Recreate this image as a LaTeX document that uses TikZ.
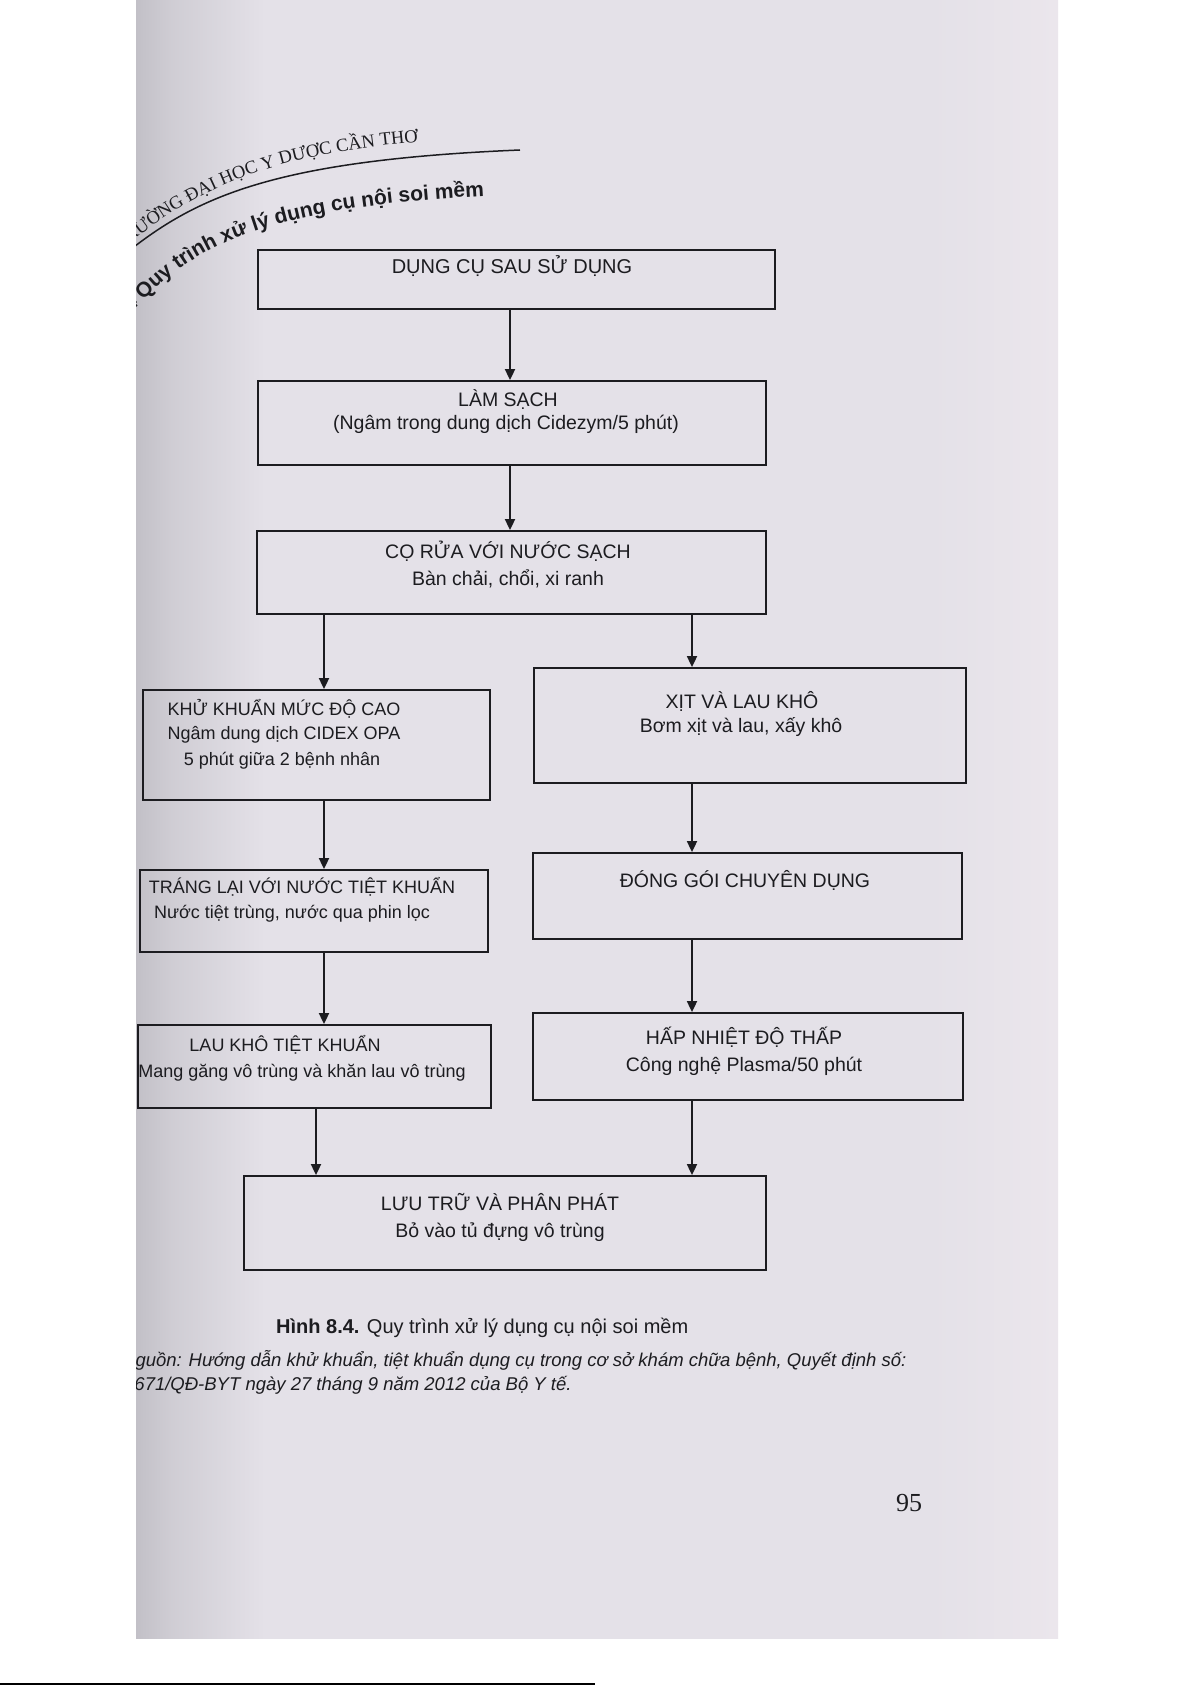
\documentclass[tikz,border=0pt]{standalone}
\usepackage{fontspec}
\setmainfont{Liberation Sans}
\newfontfamily\seriffont{Liberation Serif}
\usetikzlibrary{arrows.meta,decorations.text}
\definecolor{pagebg}{RGB}{228,225,232}
\definecolor{pagedark}{RGB}{194,192,199}
\definecolor{pagelight}{RGB}{235,230,236}
\definecolor{ink}{RGB}{28,28,32}
\pgfdeclarehorizontalshading{pageshade}{100bp}{color(0bp)=(pagedark); color(25bp)=(pagedark); color(27bp)=(pagedark!60!pagebg); color(32bp)=(pagebg); color(68bp)=(pagebg); color(75bp)=(pagelight); color(100bp)=(pagelight)}
\tikzset{
  box/.style={draw=ink, line width=1.8pt, rectangle, inner sep=0pt},
  arr/.style={draw=ink, line width=1.8pt, -{Triangle[width=10pt,length=11pt]}},
  bt/.style={text=ink, font=\fontsize{19.5}{23}\selectfont, align=center, inner sep=0pt},
  lt/.style={text=ink, font=\fontsize{18}{22}\selectfont, align=center, inner sep=0pt},
}
\begin{document}
\begin{tikzpicture}[x=1pt,y=-1pt]
\useasboundingbox (0,0) rectangle (1191,1685);
\fill[white] (0,0) rectangle (1191,1685);
% page
\shade[shading=pageshade] (136,0) rectangle (1058,1638);
\draw[line width=2pt] (0,1684) -- (595,1684);

\begin{scope}
\clip (136,0) rectangle (1058,1638);
% header rule
\draw[ink, line width=1.5pt] (130,250) .. controls (200,195) and (280,160) .. (520,150);
% header text
\path[decorate, decoration={text along path, text align=right, text color=ink,
  text={|\seriffont\fontsize{18.5}{20}\selectfont|TRƯỜNG ĐẠI HỌC Y DƯỢC CẦN THƠ}}]
  (90,285) -- (130,243) .. controls (190,195) and (260,155) .. (418,142);
% title
\path[decorate, decoration={text along path, text align=right, text color=ink,
  text={|\bfseries\fontsize{21}{24}\selectfont|8.4 Quy trình xử lý dụng cụ nội soi mềm}}]
  (100,340) -- (142,302) .. controls (200,240) and (280,207) .. (484,196);
% source
\node[anchor=west, text=ink, font=\fontsize{18.5}{22}\selectfont\itshape, inner sep=0pt] (src1) at (122,1360)
  {Nguồn: Hướng dẫn khử khuẩn, tiệt khuẩn dụng cụ trong cơ sở khám chữa bệnh, Quyết định số:};
\node[anchor=west, text=ink, font=\fontsize{18.5}{22}\selectfont\itshape, inner sep=0pt] (src2) at (124,1385)
  {3671/QĐ-BYT ngày 27 tháng 9 năm 2012 của Bộ Y tế.};
\end{scope}

% boxes
\node[box, minimum width=517pt, minimum height=59pt] (b1) at (516.5,279.5) {};
\node[box, minimum width=508pt, minimum height=84pt] (b2) at (512,423) {};
\node[box, minimum width=509pt, minimum height=83pt] (b3) at (511.5,572.5) {};
\node[box, minimum width=347pt, minimum height=110pt] (b4) at (316.5,745) {};
\node[box, minimum width=432pt, minimum height=115pt] (b5) at (750,725.5) {};
\node[box, minimum width=348pt, minimum height=82pt] (b6) at (314,911) {};
\node[box, minimum width=429pt, minimum height=86pt] (b7) at (747.5,896) {};
\node[box, minimum width=353pt, minimum height=83pt] (b8) at (314.5,1066.5) {};
\node[box, minimum width=430pt, minimum height=87pt] (b9) at (748,1056.5) {};
\node[box, minimum width=522pt, minimum height=94pt] (b10) at (505,1223) {};

% texts
\node[bt, font=\fontsize{20}{24}\selectfont] (t1) at (512,266) {DỤNG CỤ SAU SỬ DỤNG};
\node[bt] (t2a) at (508,400) {LÀM SẠCH};
\node[bt] (t2b) at (506,424) {(Ngâm trong dung dịch Cidezym/5 phút)};
\node[bt] (t3a) at (508,551) {CỌ RỬA VỚI NƯỚC SẠCH};
\node[bt] (t3b) at (508,579) {Bàn chải, chổi, xi ranh};
\node[lt] (t4a) at (284,709) {KHỬ KHUẨN MỨC ĐỘ CAO};
\node[lt] (t4b) at (284,735) {Ngâm dung dịch CIDEX OPA};
\node[lt] (t4c) at (282,761) {5 phút giữa 2 bệnh nhân};
\node[bt] (t5a) at (742,701) {XỊT VÀ LAU KHÔ};
\node[bt] (t5b) at (741,727) {Bơm xịt và lau, xấy khô};
\node[lt] (t6a) at (302,887) {TRÁNG LẠI VỚI NƯỚC TIỆT KHUẨN};
\node[lt] (t6b) at (292,914) {Nước tiệt trùng, nước qua phin lọc};
\node[bt] (t7) at (745,880) {ĐÓNG GÓI CHUYÊN DỤNG};
\node[lt] (t8a) at (285,1045) {LAU KHÔ TIỆT KHUẨN};
\node[lt] (t8b) at (302,1073) {Mang găng vô trùng và khăn lau vô trùng};
\node[bt] (t9a) at (744,1037) {HẤP NHIỆT ĐỘ THẤP};
\node[bt] (t9b) at (744,1066) {Công nghệ Plasma/50 phút};
\node[bt] (t10a) at (500,1202) {LƯU TRỮ VÀ PHÂN PHÁT};
\node[bt] (t10b) at (500,1232) {Bỏ vào tủ đựng vô trùng};

% connector columns
\coordinate (mx) at (510,0);
\coordinate (lx) at (324,0);
\coordinate (lx2) at (316,0);
\coordinate (rx) at (692,0);

\draw[arr] (b1.south -| mx) -- (b2.north -| mx);
\draw[arr] (b2.south -| mx) -- (b3.north -| mx);
\draw[arr] (b3.south -| lx) -- (b4.north -| lx);
\draw[arr] (b3.south -| rx) -- (b5.north -| rx);
\draw[arr] (b4.south -| lx) -- (b6.north -| lx);
\draw[arr] (b5.south -| rx) -- (b7.north -| rx);
\draw[arr] (b6.south -| lx) -- (b8.north -| lx);
\draw[arr] (b7.south -| rx) -- (b9.north -| rx);
\draw[arr] (b8.south -| lx2) -- (b10.north -| lx2);
\draw[arr] (b9.south -| rx) -- (b10.north -| rx);

% caption and page number
\node[anchor=west, text=ink, font=\fontsize{20}{24}\selectfont, inner sep=0pt] (cap) at (276,1328)
  {\textbf{Hình 8.4.} Quy trình xử lý dụng cụ nội soi mềm};
\node[text=ink, font=\seriffont\fontsize{26}{30}\selectfont, inner sep=0pt] (pn) at (909,1503) {95};
\end{tikzpicture}
\end{document}
